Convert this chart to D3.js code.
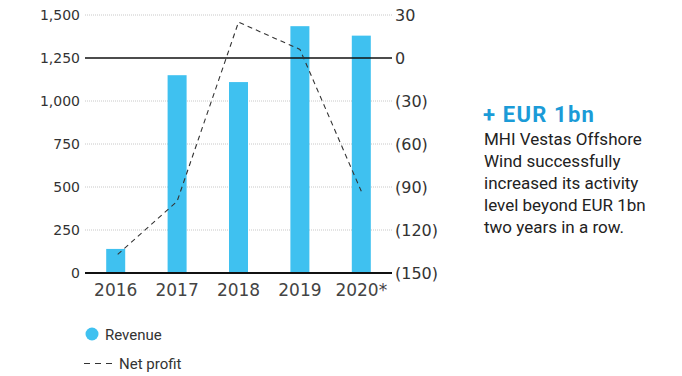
<!DOCTYPE html>
<html>
<head>
<meta charset="utf-8">
<script src="https://cdn.jsdelivr.net/npm/d3@7"></script>
<style>
  html, body { margin: 0; padding: 0; background: #fff; }
  svg { display: block; }
</style>
</head>
<body>
<svg id="chart" width="682" height="376"></svg>
<script>
// Revenue (EUR m, left axis) and net profit (EUR m, right axis)
const years = ["2016", "2017", "2018", "2019", "2020*"];
const revenue = [140, 1150, 1110, 1435, 1380];
const netProfit = [-137, -100, 25, 6, -93];
const leftTicks = [0, 250, 500, 750, 1000, 1250, 1500];
const rightTicks = [-150, -120, -90, -60, -30, 0, 30];

const svg = d3.select("#chart");
const plotLeft = 85, plotRight = 392, plotTop = 15, plotBottom = 273;

const x = d3.scaleBand().domain(years).range([plotLeft, plotRight]).padding(0);
const yL = d3.scaleLinear().domain([0, 1500]).range([plotBottom, plotTop]);
const yR = d3.scaleLinear().domain([-150, 30]).range([plotBottom, plotTop]);

const barColor = "#3fc1f0";
const textColor = "#333";

// dotted gridlines
svg.append("g").selectAll("line")
  .data(leftTicks.filter(d => d !== 0 && d !== 1250))
  .join("line")
  .attr("x1", plotLeft).attr("x2", plotRight)
  .attr("y1", d => yL(d)).attr("y2", d => yL(d))
  .attr("stroke", "#c8c8c8").attr("stroke-width", 1)
  .attr("stroke-dasharray", "1,1");

// left axis
const axL = svg.append("g").attr("transform", `translate(${plotLeft - 5},0)`)
  .call(d3.axisLeft(yL).tickValues(leftTicks).tickSize(0).tickPadding(0)
    .tickFormat(d3.format(",")));
axL.select(".domain").remove();
axL.selectAll("text").attr("font-family", "DejaVu Sans").attr("font-size", 14)
  .attr("fill", textColor);

// right axis
const fmtR = d => d < 0 ? `(${-d})` : `${d}`;
const axR = svg.append("g").attr("transform", `translate(${plotRight + 3},0)`)
  .call(d3.axisRight(yR).tickValues(rightTicks).tickSize(0).tickPadding(0)
    .tickFormat(fmtR));
axR.select(".domain").remove();
axR.selectAll("text").attr("font-family", "DejaVu Sans").attr("font-size", 16)
  .attr("fill", textColor);

// bars
const bw = 19;
svg.append("g").selectAll("rect")
  .data(years.map((y, i) => ({ y, v: revenue[i] })))
  .join("rect")
  .attr("x", d => x(d.y) + x.bandwidth() / 2 - bw / 2)
  .attr("width", bw)
  .attr("y", d => yL(d.v))
  .attr("height", d => yL(0) - yL(d.v))
  .attr("fill", barColor);

// zero line of net profit
svg.append("line")
  .attr("x1", plotLeft).attr("x2", plotRight)
  .attr("y1", yR(0)).attr("y2", yR(0))
  .attr("stroke", "#111").attr("stroke-width", 1.5);

// baseline
svg.append("line")
  .attr("x1", plotLeft).attr("x2", plotRight)
  .attr("y1", yL(0)).attr("y2", yL(0))
  .attr("stroke", "#111").attr("stroke-width", 2);

// net profit line
const line = d3.line()
  .x((d, i) => x(years[i]) + x.bandwidth() / 2 + (i === 0 ? 2 : 0))
  .y(d => yR(d));
svg.append("path")
  .datum(netProfit)
  .attr("d", line)
  .attr("fill", "none")
  .attr("stroke", "#333")
  .attr("stroke-width", 1.1)
  .attr("stroke-dasharray", "5,4");

// x axis labels
const axX = svg.append("g").attr("transform", `translate(0,${plotBottom + 8})`)
  .call(d3.axisBottom(x).tickSize(0).tickPadding(0));
axX.select(".domain").remove();
axX.selectAll("text").attr("font-family", "DejaVu Sans").attr("font-size", 17)
  .attr("fill", "#444").attr("dy", "0.9em");

// legend
const lg = svg.append("g").attr("font-family", "Roboto").attr("font-size", 15)
  .attr("fill", textColor);
lg.append("circle").attr("cx", 92).attr("cy", 334).attr("r", 6.5).attr("fill", barColor);
lg.append("text").attr("x", 105).attr("y", 339.5).text("Revenue");
lg.append("line").attr("x1", 84).attr("x2", 112).attr("y1", 363.5).attr("y2", 363.5)
  .attr("stroke", "#333").attr("stroke-width", 1.1).attr("stroke-dasharray", "6,5");
lg.append("text").attr("x", 119).attr("y", 369).text("Net profit");

// annotation
const note = svg.append("g").attr("font-family", "Roboto");
note.append("text").attr("x", 483).attr("y", 122)
  .attr("font-size", 22).attr("font-weight", "bold").attr("fill", "#1b9bd7")
  .attr("letter-spacing", 1.2)
  .text("+ EUR 1bn");
const noteLines = [
  "MHI Vestas Offshore",
  "Wind successfully",
  "increased its activity",
  "level beyond EUR 1bn",
  "two years in a row."
];
note.append("g").selectAll("text").data(noteLines).join("text")
  .attr("x", 484).attr("y", (d, i) => 145 + i * 22)
  .attr("font-size", 17).attr("fill", "#222")
  .text(d => d);
</script>
</body>
</html>
